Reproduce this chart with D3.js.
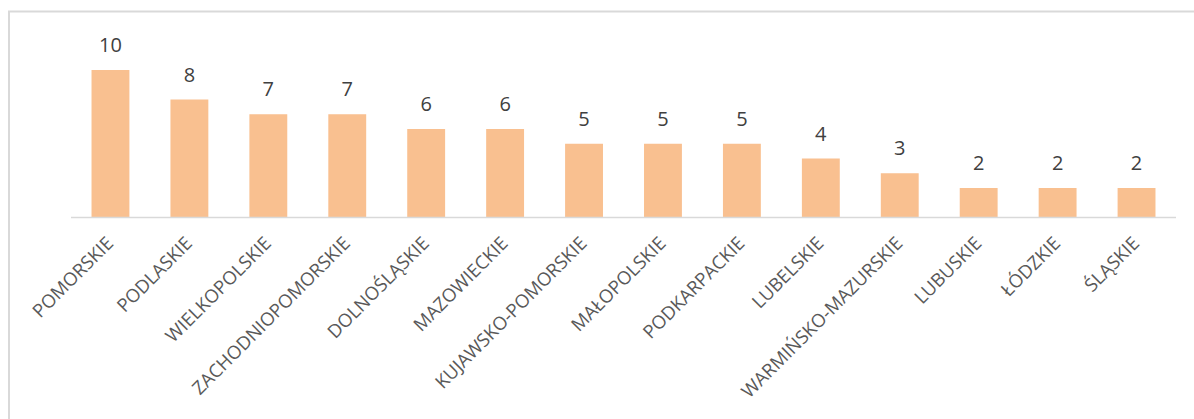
<!DOCTYPE html>
<html><head><meta charset="utf-8">
<script src="https://cdn.jsdelivr.net/npm/d3@7"></script>
<style>body{margin:0;background:#fff}svg{display:block}</style>
</head><body>
<script>
const categories = ["POMORSKIE","PODLASKIE","WIELKOPOLSKIE","ZACHODNIOPOMORSKIE","DOLNOŚLĄSKIE","MAZOWIECKIE","KUJAWSKO-POMORSKIE","MAŁOPOLSKIE","PODKARPACKIE","LUBELSKIE","WARMIŃSKO-MAZURSKIE","LUBUSKIE","ŁÓDZKIE","ŚLĄSKIE"];
const values = [10,8,7,7,6,6,5,5,5,4,3,2,2,2];

const W = 1194, H = 419;
const svg = d3.select("body").append("svg").attr("width", W).attr("height", H);

// chart border (cropped at right/bottom)
svg.append("rect").attr("x", 9).attr("y", 11.5).attr("width", 1200).attr("height", 420)
  .attr("fill", "none").attr("stroke", "#d9d9d9").attr("stroke-width", 2);

const x = d3.scaleBand().domain(categories).range([71, 1176]).paddingInner(0.52).paddingOuter(0.26);
const y = d3.scaleLinear().domain([0, 10]).range([217.5, 70]);

svg.selectAll("rect.bar").data(values).join("rect").attr("class", "bar")
  .attr("x", (d, i) => x(categories[i]))
  .attr("width", x.bandwidth())
  .attr("y", d => y(d))
  .attr("height", d => y(0) - y(d))
  .attr("fill", "#f9c090");

svg.append("line").attr("x1", 71).attr("x2", 1176).attr("y1", y(0)).attr("y2", y(0))
  .attr("stroke", "#d9d9d9").attr("stroke-width", 1.5);

svg.selectAll("text.val").data(values).join("text").attr("class", "val")
  .attr("x", (d, i) => x(categories[i]) + x.bandwidth() / 2)
  .attr("y", d => y(d) - 18)
  .attr("text-anchor", "middle")
  .attr("font-family", "Open Sans")
  .attr("font-size", 20)
  .attr("fill", "#404040")
  .text(d => d);

svg.selectAll("text.cat").data(categories).join("text").attr("class", "cat")
  .attr("transform", d => `translate(${x(d) + x.bandwidth() / 2 + 4},${y(0) + 27}) rotate(-45)`)
  .attr("text-anchor", "end")
  .attr("font-family", "Open Sans")
  .attr("font-size", 18.5)
  .attr("fill", "#595959")
  .text(d => d);
</script>
</body></html>
